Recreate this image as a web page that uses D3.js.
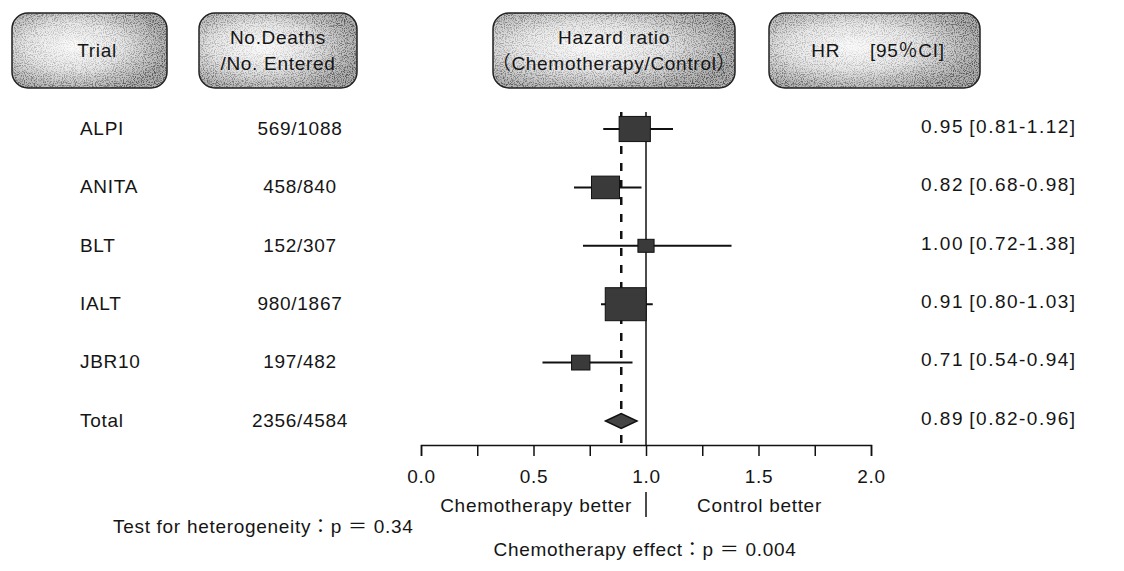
<!DOCTYPE html>
<meta charset="utf-8">
<script src="https://d3js.org/d3.v7.min.js"></script>
<style>
  body { margin: 0; background: #fff; }
  text { font-family: "Liberation Sans", Arial, "Noto Sans CJK JP", sans-serif; fill: #151515; font-size: 19px; letter-spacing: 0.7px; }
</style>
<div id="my_dataviz"></div>
<script>

// data
const trials   = ["ALPI", "ANITA", "BLT", "IALT", "JBR10"];
const deaths   = [569, 458, 152, 980, 197];
const entered  = [1088, 840, 307, 1867, 482];
const hr       = [0.95, 0.82, 1.00, 0.91, 0.71];
const lower    = [0.81, 0.68, 0.72, 0.80, 0.54];
const upper    = [1.12, 0.98, 1.38, 1.03, 0.94];

const totalLabel = "Total";
const totalDeaths = 2356, totalEntered = 4584;
const totalHr = 0.89, totalLower = 0.82, totalUpper = 0.96;

const xTicks = [0, 0.25, 0.5, 0.75, 1, 1.25, 1.5, 1.75, 2];
const xLabels = [0, 0.5, 1, 1.5, 2];

const headers = [
  {lines: ["Trial"], x0: 12, x1: 167, tx: 97},
  {lines: ["No.Deaths", "/No. Entered"], x0: 199, x1: 357, tx: 278},
  {lines: ["Hazard ratio", "（Chemotherapy/Control）"], x0: 493, x1: 735, tx: 614},
  {lines: ["HR\u00a0\u00a0\u00a0\u00a0\u00a0[95％CI]"], x0: 769, x1: 980, tx: 878}
];

const width = 1124, height = 571;

const svg = d3.select("#my_dataviz")
  .append("svg")
    .attr("width", width)
    .attr("height", height);

const defs = svg.append("defs");

// grey speckled look of the header boxes
const grad = defs.append("radialGradient")
    .attr("id", "boxfill")
    .attr("cx", "40%").attr("cy", "45%").attr("r", "62%");
grad.append("stop").attr("offset", "0%").attr("stop-color", "#fbfbfb");
grad.append("stop").attr("offset", "50%").attr("stop-color", "#e8e8e8");
grad.append("stop").attr("offset", "100%").attr("stop-color", "#b0b0b0");

const mgrad = defs.append("radialGradient")
    .attr("id", "maskgrad")
    .attr("cx", "40%").attr("cy", "45%").attr("r", "62%");
mgrad.append("stop").attr("offset", "0%").attr("stop-color", "#222");
mgrad.append("stop").attr("offset", "55%").attr("stop-color", "#777");
mgrad.append("stop").attr("offset", "100%").attr("stop-color", "#fff");

defs.append("mask")
    .attr("id", "edgemask")
    .attr("maskContentUnits", "objectBoundingBox")
  .append("rect")
    .attr("width", 1).attr("height", 1)
    .attr("fill", "url(#maskgrad)");

const speckle = defs.append("filter").attr("id", "speckle")
    .attr("x", 0).attr("y", 0).attr("width", 1).attr("height", 1);
speckle.append("feTurbulence")
    .attr("type", "fractalNoise").attr("baseFrequency", 0.9)
    .attr("numOctaves", 2).attr("seed", 5).attr("result", "n");
speckle.append("feColorMatrix")
    .attr("in", "n").attr("type", "matrix")
    .attr("values", "0 0 0 0 0  0 0 0 0 0  0 0 0 0 0  -4 0 0 0 2.2")
    .attr("result", "s");
speckle.append("feComposite")
    .attr("in", "s").attr("in2", "SourceAlpha").attr("operator", "in");

const heads = svg.selectAll(".head")
  .data(headers)
  .join("g")
    .attr("class", "head");

heads.append("rect")
    .attr("x", d => d.x0)
    .attr("y", 13)
    .attr("width", d => d.x1 - d.x0)
    .attr("height", 75)
    .attr("rx", 16)
    .attr("fill", "url(#boxfill)");

heads.append("rect")
    .attr("x", d => d.x0)
    .attr("y", 13)
    .attr("width", d => d.x1 - d.x0)
    .attr("height", 75)
    .attr("rx", 16)
    .attr("fill", "#fff")
    .attr("opacity", 0.5)
    .attr("mask", "url(#edgemask)")
    .attr("filter", "url(#speckle)");

heads.append("rect")
    .attr("x", d => d.x0)
    .attr("y", 13)
    .attr("width", d => d.x1 - d.x0)
    .attr("height", 75)
    .attr("rx", 16)
    .attr("fill", "none")
    .attr("stroke", "#222")
    .attr("stroke-width", 1.5);

heads.each(function(d) {
  const g = d3.select(this);
  const n = d.lines.length;
  d.lines.forEach((line, i) => {
    g.append("text")
      .attr("x", d.tx)
      .attr("y", 50 + (i - (n - 1) / 2) * 26)
      .attr("dy", "0.36em")
      .attr("text-anchor", "middle")
      .text(line);
  });
});

// scales
const x = d3.scaleLinear()
  .domain([0, 2])
  .range([421, 871]);

const y = d3.scalePoint()
  .domain(trials.concat([totalLabel]))
  .range([129, 421]);

const boxW = d3.scaleSqrt().domain([0, 980]).range([0, 41]);
const boxH = d3.scaleSqrt().domain([0, 980]).range([0, 33]);

const axisY = 445;

// reference lines
svg.append("line")
    .attr("x1", x(1)).attr("x2", x(1))
    .attr("y1", 112).attr("y2", axisY)
    .attr("stroke", "#111").attr("stroke-width", 1.5);

svg.append("line")
    .attr("x1", x(totalHr)).attr("x2", x(totalHr))
    .attr("y1", 112).attr("y2", axisY)
    .attr("stroke", "#111").attr("stroke-width", 2.5)
    .attr("stroke-dasharray", "8,9");

// x axis
const xAxis = svg.append("g")
    .attr("transform", `translate(0, ${axisY})`)
    .call(d3.axisBottom(x)
      .tickValues(xTicks)
      .tickSize(11)
      .tickSizeOuter(11)
      .tickPadding(14)
      .tickFormat(d => xLabels.includes(d) ? d3.format(".1f")(d) : ""));
xAxis.select(".domain").attr("stroke", "#111").attr("stroke-width", 1.5);
xAxis.selectAll(".tick line").attr("stroke", "#111").attr("stroke-width", 1.5);
xAxis.selectAll(".tick text")
    .style("font-size", "19px")
    .style("font-family", "\"Liberation Sans\", Arial, sans-serif")
    .attr("fill", "#151515");

// rows
const rows = trials.map((t, i) => ({
  trial: t, deaths: deaths[i], entered: entered[i],
  hr: hr[i], lo: lower[i], hi: upper[i]
}));

svg.selectAll(".ci")
  .data(rows)
  .join("line")
    .attr("class", "ci")
    .attr("x1", d => x(d.lo)).attr("x2", d => x(d.hi))
    .attr("y1", d => y(d.trial)).attr("y2", d => y(d.trial))
    .attr("stroke", "#111").attr("stroke-width", 2);

svg.selectAll(".box")
  .data(rows)
  .join("rect")
    .attr("class", "box")
    .attr("x", d => x(d.hr) - boxW(d.deaths) / 2)
    .attr("y", d => y(d.trial) - boxH(d.deaths) / 2)
    .attr("width", d => boxW(d.deaths))
    .attr("height", d => boxH(d.deaths))
    .attr("fill", "#3a3a3a")
    .attr("stroke", "#111")
    .attr("stroke-width", 1);

// total diamond
const ty = y(totalLabel);
svg.append("path")
    .attr("d", `M${x(totalLower)},${ty} L${x(totalHr)},${ty - 7.5} L${x(totalUpper)},${ty} L${x(totalHr)},${ty + 7.5} Z`)
    .attr("fill", "#444")
    .attr("stroke", "#111")
    .attr("stroke-width", 1.5);

// text columns
const allRows = rows.concat([{
  trial: totalLabel, deaths: totalDeaths, entered: totalEntered,
  hr: totalHr, lo: totalLower, hi: totalUpper
}]);

const f2 = d3.format(".2f");

svg.selectAll(".name")
  .data(allRows)
  .join("text")
    .attr("class", "name")
    .attr("x", 80)
    .attr("y", d => y(d.trial) - 1)
    .attr("dy", "0.36em")
    .text(d => d.trial);

svg.selectAll(".count")
  .data(allRows)
  .join("text")
    .attr("class", "count")
    .attr("x", 300)
    .attr("y", d => y(d.trial) - 1)
    .attr("dy", "0.36em")
    .attr("text-anchor", "middle")
    .text(d => `${d.deaths}/${d.entered}`);

svg.selectAll(".hrtext")
  .data(allRows)
  .join("text")
    .attr("class", "hrtext")
    .attr("x", 921)
    .attr("y", d => y(d.trial) - 3)
    .attr("dy", "0.36em")
    .style("letter-spacing", "1.5px")
    .text(d => `${f2(d.hr)}\u2009[${f2(d.lo)}-${f2(d.hi)}]`);

// bottom annotations
svg.append("text")
    .attr("x", 632).attr("y", 505).attr("dy", "0.36em")
    .attr("text-anchor", "end")
    .text("Chemotherapy better");

svg.append("line")
    .attr("x1", x(1)).attr("x2", x(1))
    .attr("y1", 492).attr("y2", 517)
    .attr("stroke", "#111").attr("stroke-width", 1.5);

svg.append("text")
    .attr("x", 697).attr("y", 505).attr("dy", "0.36em")
    .text("Control better");

svg.append("text")
    .attr("x", 113).attr("y", 526).attr("dy", "0.36em")
    .text("Test for heterogeneity：p ＝ 0.34");

svg.append("text")
    .attr("x", 645).attr("y", 549).attr("dy", "0.36em")
    .attr("text-anchor", "middle")
    .text("Chemotherapy effect：p ＝ 0.004");

</script>
